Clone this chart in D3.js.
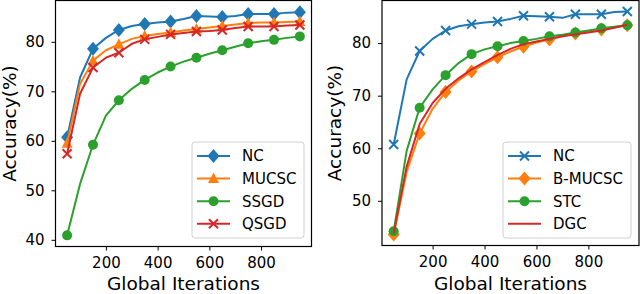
<!DOCTYPE html>
<meta charset="utf-8">
<style>
  body { margin: 0; background: #fff; }
  text { font-family: "DejaVu Sans", sans-serif; fill: #000; }
</style>
<body>
<div id="chart"></div>
<script src="https://cdn.jsdelivr.net/npm/d3@7"></script>
<script>

// global iterations, one point every 50, markers on every other one
var iterations = [50,100,150,200,250,300,350,400,450,500,550,600,650,700,750,800,850,900,950];

// left panel
var ncLeft   = [60.7,72.8,78.6,80.8,82.4,83.2,83.6,83.9,84.1,84.6,85.2,85.1,85.0,85.2,85.6,85.6,85.6,85.9,86.0];
var mucsc    = [59.5,71.5,76.2,78.3,79.5,80.6,81.2,81.6,81.9,82.3,82.6,82.9,83.2,83.5,83.8,83.9,83.9,84.0,84.1];
var ssgd     = [40.9,51.3,59.2,65.1,68.2,70.5,72.3,73.8,75.0,76.0,76.8,77.6,78.3,79.0,79.7,80.1,80.4,80.8,81.1];
var qsgd     = [57.4,69.5,74.8,76.8,77.8,79.6,80.5,81.0,81.5,81.8,82.1,82.2,82.4,82.8,83.1,83.1,83.1,83.3,83.4];

// right panel
var ncRight  = [60.7,73.1,78.5,80.8,82.4,83.2,83.6,83.9,84.1,84.6,85.2,85.1,85.0,84.8,85.5,85.5,85.5,85.9,86.0];
var bmucsc   = [43.6,55.5,62.8,67.5,70.7,72.9,74.6,76.0,77.3,78.4,79.3,80.1,80.7,81.3,81.8,82.2,82.6,83.0,83.4];
var stc      = [44.2,59.5,67.7,71.2,73.9,76.2,77.9,78.8,79.4,80.0,80.4,80.8,81.3,81.6,82.0,82.4,82.8,83.1,83.4];
var dgc      = [43.8,56.5,64.6,68.6,71.3,73.3,75.0,76.4,77.7,78.9,79.8,80.3,80.8,81.3,81.7,82.0,82.4,82.9,83.5];

var xTicks = [200,400,600,800];
var yTicks = [40,50,60,70,80];

var blue = "#1f77b4", orange = "#ff7f0e", green = "#2ca02c", red = "#d62728";

var svg = d3.select("#chart").append("svg")
    .attr("width", 640)
    .attr("height", 294);

var panels = [
  {
    left: 55.5, right: 311.5, top: 0.5, bottom: 246.5,
    yDomain: [38.65, 88.35], labelX: 15.5,
    legend: {x0: 192, x1: 304, y0: 142, y1: 238},
    series: [
      {name: "NC", values: ncLeft, color: blue, marker: "diamond"},
      {name: "MUCSC", values: mucsc, color: orange, marker: "triangle"},
      {name: "SSGD", values: ssgd, color: green, marker: "circle"},
      {name: "QSGD", values: qsgd, color: red, marker: "x"}
    ]
  },
  {
    left: 382, right: 639, top: 0.5, bottom: 245.5,
    yDomain: [41.5, 88.1], labelX: 341,
    legend: {x0: 503, x1: 631, y0: 142, y1: 238},
    series: [
      {name: "NC", values: ncRight, color: blue, marker: "x"},
      {name: "B-MUCSC", values: bmucsc, color: orange, marker: "diamond"},
      {name: "STC", values: stc, color: green, marker: "circle"},
      {name: "DGC", values: dgc, color: red, marker: null}
    ]
  }
];

function drawMarker(g, type, cx, cy, color) {
  if (type === "diamond") {
    g.append("path")
      .attr("d", "M0,-7L6,0L0,7L-6,0Z")
      .attr("transform", "translate(" + cx + "," + cy + ")")
      .attr("fill", color);
  } else if (type === "triangle") {
    g.append("path")
      .attr("d", "M0,-6L5.5,4.5L-5.5,4.5Z")
      .attr("transform", "translate(" + cx + "," + cy + ")")
      .attr("fill", color);
  } else if (type === "circle") {
    g.append("circle")
      .attr("cx", cx).attr("cy", cy).attr("r", 5)
      .attr("fill", color);
  } else if (type === "x") {
    g.append("path")
      .attr("d", "M-4.5,-4.5L4.5,4.5M-4.5,4.5L4.5,-4.5")
      .attr("transform", "translate(" + cx + "," + cy + ")")
      .attr("stroke", color).attr("stroke-width", 2).attr("fill", "none");
  }
}

panels.forEach(function(p) {
  var x = d3.scaleLinear().domain([5, 995]).range([p.left, p.right]);
  var y = d3.scaleLinear().domain(p.yDomain).range([p.bottom, p.top]);

  var g = svg.append("g");

  var line = d3.line()
      .x(function(d, i) { return x(iterations[i]); })
      .y(function(d) { return y(d); });

  p.series.forEach(function(s) {
    g.append("path")
      .datum(s.values)
      .attr("d", line)
      .attr("fill", "none")
      .attr("stroke", s.color)
      .attr("stroke-width", 2)
      .attr("stroke-linejoin", "round");
    if (s.marker) {
      s.values.forEach(function(v, i) {
        if (i % 2 === 0) drawMarker(g, s.marker, x(iterations[i]), y(v), s.color);
      });
    }
  });

  // axes
  var xAxis = d3.axisBottom(x).tickValues(xTicks).tickSize(4).tickPadding(7).tickSizeOuter(0);
  var gx = svg.append("g")
      .attr("transform", "translate(0," + p.bottom + ")")
      .call(xAxis);
  gx.select(".domain").remove();
  gx.selectAll("text").style("font-size", "15px").attr("font-family", "DejaVu Sans");
  gx.selectAll("line").attr("stroke", "#000");

  var ticksY = yTicks.filter(function(t) { return t >= p.yDomain[0]; });
  var yAxis = d3.axisLeft(y).tickValues(ticksY).tickSize(4).tickPadding(7).tickSizeOuter(0);
  var gy = svg.append("g")
      .attr("transform", "translate(" + p.left + ",0)")
      .call(yAxis);
  gy.select(".domain").remove();
  gy.selectAll("text").style("font-size", "15px").attr("font-family", "DejaVu Sans");

  svg.append("rect")
    .attr("x", p.left).attr("y", p.top)
    .attr("width", p.right - p.left).attr("height", p.bottom - p.top)
    .attr("fill", "none").attr("stroke", "#000").attr("stroke-width", 1.2);

  // axis labels
  svg.append("text")
    .attr("x", (p.left + p.right) / 2).attr("y", 289.5)
    .attr("text-anchor", "middle")
    .style("font-size", "18.5px")
    .text("Global Iterations");

  svg.append("text")
    .attr("transform", "translate(" + (p.labelX) + "," + ((p.top + p.bottom) / 2) + ") rotate(-90)")
    .attr("text-anchor", "middle")
    .style("font-size", "18.5px")
    .text("Accuracy(%)");

  // legend
  var L = p.legend;
  var lg = svg.append("g");
  lg.append("rect")
    .attr("x", L.x0).attr("y", L.y0)
    .attr("width", L.x1 - L.x0).attr("height", L.y1 - L.y0)
    .attr("rx", 3)
    .attr("fill", "#fff").attr("fill-opacity", 0.8)
    .attr("stroke", "#d0d0d0").attr("stroke-width", 1);
  p.series.forEach(function(s, i) {
    var yy = L.y0 + 14 + i * 22.6;
    lg.append("line")
      .attr("x1", L.x0 + 5).attr("x2", L.x0 + 38)
      .attr("y1", yy).attr("y2", yy)
      .attr("stroke", s.color).attr("stroke-width", 2);
    if (s.marker) drawMarker(lg, s.marker, L.x0 + 21.5, yy, s.color);
    lg.append("text")
      .attr("x", L.x0 + 50).attr("y", yy)
      .attr("dy", "0.36em")
      .style("font-size", "15px")
      .text(s.name);
  });
});

</script>
</body>
